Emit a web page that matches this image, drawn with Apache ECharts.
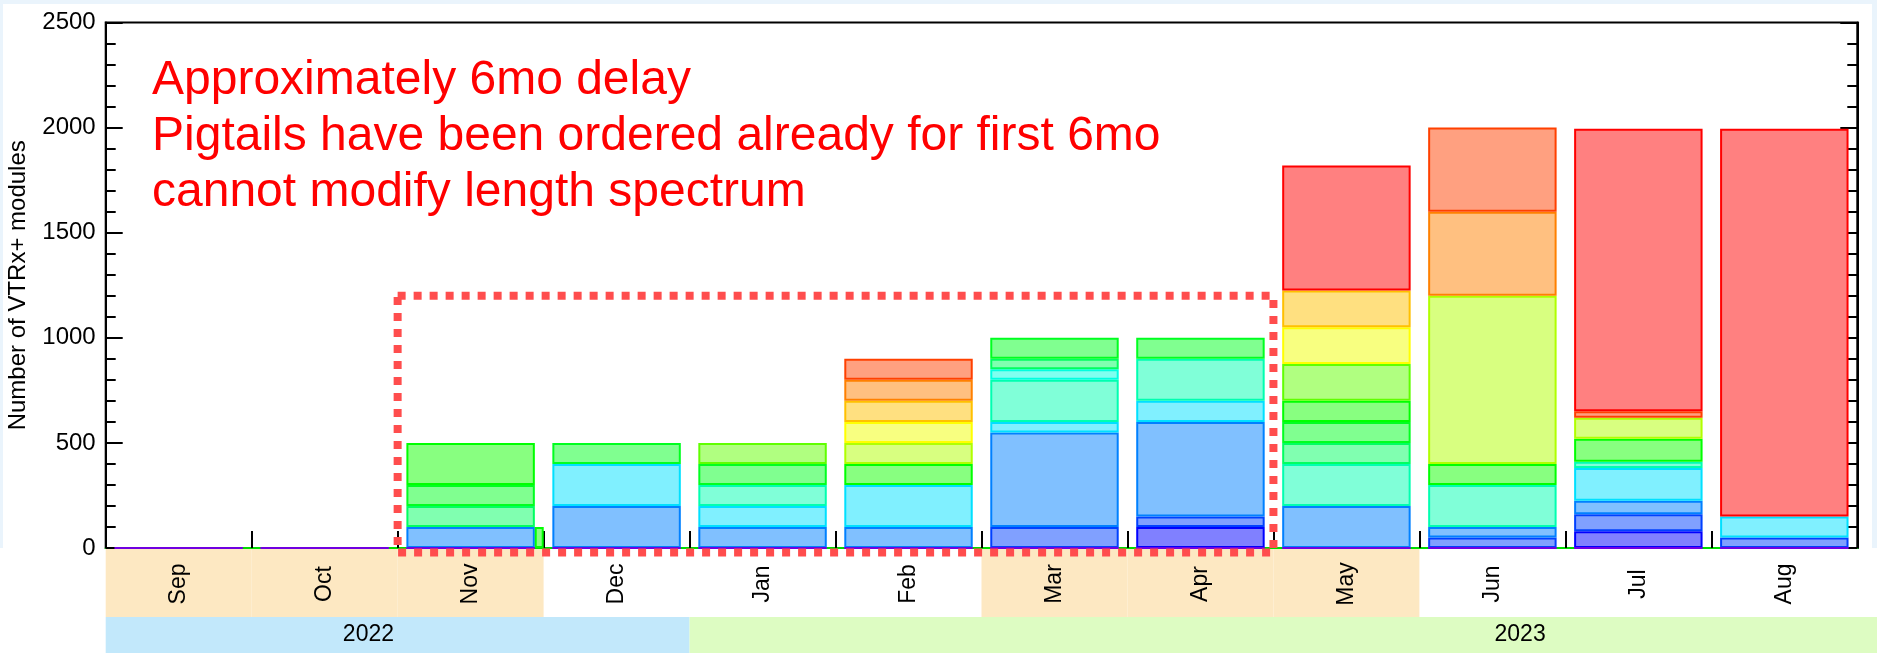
<!DOCTYPE html>
<html>
<head>
<meta charset="utf-8">
<script src="https://cdn.jsdelivr.net/npm/echarts@6/dist/echarts.min.js"></script>
<style>
html,body{margin:0;padding:0;background:#fff;}
#c{width:1877px;height:653px;}
</style>
</head>
<body>
<div id="c"></div>
<script>
// ---------------- data ----------------
const months = ['Sep','Oct','Nov','Dec','Jan','Feb','Mar','Apr','May','Jun','Jul','Aug'];
const monthShaded = [1,1,1,0,0,0,1,1,1,0,0,0];
const years = ['2022','2023'];
const yearStart = [0, 4];          // month index where each year band starts
const yearEnd = [4, 12];           // month index where each year band ends
const yearLabelAt = [1.8, 9.69];   // month position of year label
const yMin = 0, yMax = 2500, yStep = 500;

// length groups, bottom to top of the stack
const g00 = [0,0,0,0,0,0,0,100,0,0,80,0];
const g01 = [0,0,0,0,0,0,100,50,0,50,80,50];
const g02 = [0,0,100,200,100,100,450,450,200,50,65,0];
const g03 = [0,0,0,200,100,200,50,100,0,0,155,100];
const g04 = [0,0,0,0,100,0,200,200,200,200,30,0];
const g05 = [0,0,0,0,0,0,50,0,0,0,0,0];
const g06 = [0,0,100,0,0,0,50,0,100,0,0,0];
const g07 = [0,0,100,100,100,0,100,100,100,0,0,0];
const g08 = [0,0,200,0,0,100,0,0,100,100,110,0];
const g09 = [0,0,0,0,100,0,0,0,175,0,0,0];
const g10 = [0,0,0,0,0,100,0,0,0,800,100,0];
const g11 = [0,0,0,0,0,100,0,0,175,0,0,0];
const g12 = [0,0,0,0,0,100,0,0,175,0,0,0];
const g13 = [0,0,0,0,0,100,0,0,0,400,0,0];
const g14 = [0,0,0,0,0,100,0,0,0,400,30,0];
const g15 = [0,0,0,0,0,0,0,0,595,0,1345,1845];
const baseline = [0,0,0,0,0,0,0,0,0,0,0,0];

// narrow extra bin at the end of Nov
const extraBinX = [2.97];
const extraBinY = [100];

// dotted highlight box (month position, value)
const boxX = [2, 8, 8, 2, 2];
const boxY = [1200, 1200, -22, -22, 1200];

const noteLines = ['Approximately 6mo delay', 'Pigtails have been ordered already for first 6mo', 'cannot modify length spectrum'];

// ---------------- styles ----------------
const F = 'Liberation Sans, Arial, Helvetica, sans-serif';
const groups = [
  {d:g00, fill:'#8080ff', line:'#0000ff'},
  {d:g01, fill:'#80a0ff', line:'#0040ff'},
  {d:g02, fill:'#80c0ff', line:'#0080ff'},
  {d:g03, fill:'#80f0ff', line:'#00e0ff'},
  {d:g04, fill:'#80ffd8', line:'#00ffb0'},
  {d:g05, fill:'#80fff0', line:'#00ffe0'},
  {d:g06, fill:'#80ffb0', line:'#00ff60'},
  {d:g07, fill:'#80ff90', line:'#00ff20'},
  {d:g08, fill:'#88ff80', line:'#00ff00'},
  {d:g09, fill:'#b0ff80', line:'#60ff00'},
  {d:g10, fill:'#d8ff80', line:'#b0ff00'},
  {d:g11, fill:'#f8ff80', line:'#ffff00'},
  {d:g12, fill:'#ffe080', line:'#ffc000'},
  {d:g13, fill:'#ffc080', line:'#ff8000'},
  {d:g14, fill:'#ffa080', line:'#ff4000'},
  {d:g15, fill:'#ff8080', line:'#ff0000'}
];

const series = [];
series.push({
  name:'base', type:'bar', stack:'m', barWidth:'88%', z:5,
  data: baseline,
  itemStyle:{color:'rgba(0,0,0,0)', borderColor:'#7000e0', borderWidth:2},
  silent:true
});
groups.forEach((g,i)=>{
  series.push({
    name:'group '+(i+1), type:'bar', stack:'m', barWidth:'88%',
    data: g.d.map(v => v === 0 ? '-' : v),
    itemStyle:{color:g.fill, borderColor:g.line, borderWidth:2}
  });
});
series.push({
  name:'extra', type:'bar', xAxisIndex:1, yAxisIndex:0, barWidth:9,
  data: extraBinX.map((x,i)=>[x, extraBinY[i]]),
  itemStyle:{color:'#88ff80', borderColor:'#00ff00', borderWidth:2}
});
series.push({
  name:'box', type:'line', xAxisIndex:1, yAxisIndex:0, clip:false, symbol:'none', z:10,
  data: boxX.map((x,i)=>[x, boxY[i]]),
  lineStyle:{color:'#ff4d4d', width:8, type:[8,8], cap:'butt', join:'miter'}
});

const chart = echarts.init(document.getElementById('c'), null, {renderer:'canvas'});
const option = {
  animation:false,
  backgroundColor:'#ffffff',
  grid:{left:105.7, right:19.7, top:22.5, bottom:105, containLabel:false, outerBoundsMode:'none',
        show:true, borderColor:'#000', borderWidth:2, backgroundColor:'#fff'},
  xAxis:[
    {type:'category', data:months, boundaryGap:true,
     axisLine:{show:true, lineStyle:{color:'#00dd00', width:2}},
     axisTick:{show:true, inside:true, length:17, interval:0, lineStyle:{color:'#000', width:2}},
     axisLabel:{interval:0, rotate:90, margin:36, align:'center', verticalAlign:'middle', fontSize:23, color:'#000', fontFamily:F},
     splitLine:{show:false}},
    {type:'value', min:0, max:12, show:false}
  ],
  yAxis:[
    {type:'value', min:yMin, max:yMax, interval:yStep, position:'left',
     name:'Number of VTRx+ modules', nameLocation:'middle', nameGap:75,
     nameTextStyle:{fontSize:24, color:'#000', fontFamily:F},
     axisLine:{show:true, lineStyle:{color:'#000', width:2}},
     axisTick:{show:true, inside:true, length:17, lineStyle:{color:'#000', width:2}},
     minorTick:{show:true, splitNumber:5, length:10, lineStyle:{color:'#000', width:2}},
     axisLabel:{fontSize:24, color:'#000', margin:10, fontFamily:F, formatter: v => String(v)},
     splitLine:{show:false}},
    {type:'value', min:yMin, max:yMax, interval:yStep, position:'right',
     axisLine:{show:true, lineStyle:{color:'#000', width:2}},
     axisTick:{show:true, inside:true, length:17, lineStyle:{color:'#000', width:2}},
     minorTick:{show:true, splitNumber:5, length:10, lineStyle:{color:'#000', width:2}},
     axisLabel:{show:false},
     splitLine:{show:false}}
  ],
  series: series
};
chart.setOption(option);

// bands under the axis, placed through the axes
const W = 1877, H = 653;
const px = v => chart.convertToPixel({xAxisIndex:1}, v);
const base = chart.convertToPixel({yAxisIndex:0}, 0);
const monthBandBottom = 617;
const graphics = [];
months.forEach((m,i)=>{
  if (monthShaded[i]) {
    graphics.push({type:'rect', z:-1, silent:true,
      shape:{x:px(i), y:base, width:px(i+1)-px(i), height:monthBandBottom-base},
      style:{fill:'#fde8c2'}});
  }
});
const yearColors = ['#c2e8fb', '#ddfcc2'];
years.forEach((y,i)=>{
  const x0 = px(yearStart[i]);
  const x1 = yearEnd[i] >= months.length ? W : px(yearEnd[i]);
  graphics.push({type:'rect', z:-1, silent:true,
    shape:{x:x0, y:monthBandBottom, width:x1-x0, height:H-monthBandBottom},
    style:{fill:yearColors[i]}});
  graphics.push({type:'text', z:2, silent:true,
    x:px(yearLabelAt[i]), y:(monthBandBottom+H)/2,
    style:{text:y, font:'23px '+F, fill:'#000', align:'center', verticalAlign:'middle'}});
});
// frame
graphics.push({type:'rect', silent:true, z:-2, shape:{x:0,y:0,width:W,height:4}, style:{fill:'#eaf4fc'}});
graphics.push({type:'rect', silent:true, z:-2, shape:{x:0,y:0,width:3,height:base}, style:{fill:'#eaf4fc'}});
graphics.push({type:'rect', silent:true, z:-2, shape:{x:W-5,y:0,width:5,height:base}, style:{fill:'#eaf4fc'}});
// annotation
graphics.push({type:'text', z:30, silent:true, x:152, y:53,
  style:{text:noteLines.join('\n'), font:'48px '+F, fill:'#ff0000', lineHeight:56, verticalAlign:'top'}});
chart.setOption({graphic:graphics});
</script>
</body>
</html>
